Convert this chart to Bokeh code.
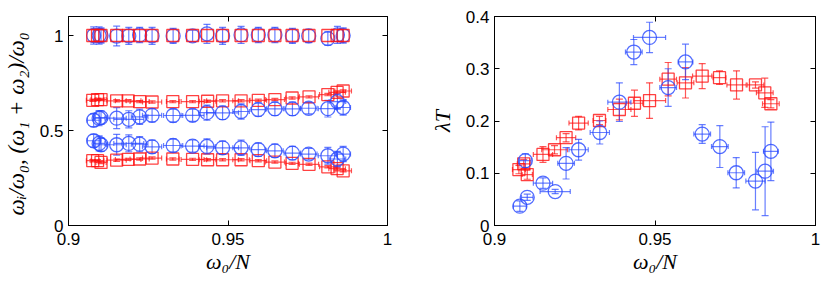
import numpy as np
from bokeh.plotting import figure
from bokeh.layouts import row
from bokeh.models import (ColumnDataSource, Whisker, TeeHead, FixedTicker, LinearAxis,
                          CustomJSTickFormatter, Range1d)
from bokeh.embed import file_html
from bokeh.resources import INLINE

# ---------------- data ----------------
x_blue = [0.9079, 0.9096, 0.9102, 0.9151, 0.9189, 0.9223, 0.9262, 0.9328, 0.9389, 0.9434,
          0.9483, 0.9541, 0.9595, 0.9647, 0.9702, 0.9753, 0.9813, 0.9843, 0.9861]
xerr_blue = [0.002, 0.0018, 0.0018, 0.003, 0.0047, 0.0026, 0.003, 0.003, 0.0036, 0.0026,
             0.005, 0.0026, 0.0023, 0.0026, 0.0026, 0.0026, 0.003, 0.0026, 0.0023]
x_red = [0.9076, 0.9091, 0.9102, 0.9151, 0.9187, 0.9223, 0.9262, 0.9327, 0.9389, 0.9436,
         0.9483, 0.9541, 0.9595, 0.9647, 0.9701, 0.9754, 0.9813, 0.9842, 0.9861]
xerr_red = [0.002, 0.002, 0.0016, 0.003, 0.004, 0.003, 0.003, 0.002, 0.0036, 0.0026,
            0.005, 0.0026, 0.0026, 0.003, 0.002, 0.003, 0.0026, 0.0026, 0.0026]

# left panel: omega_i/omega_0 and (omega_1+omega_2)/omega_0
blue_sum = [1.0, 1.0, 1.0, 0.997, 0.998, 1.003, 0.998, 0.998, 0.998, 1.009,
            0.998, 1.003, 1.003, 1.003, 0.998, 0.998, 0.984, 1.003, 1.0]
blue_sum_err = [0.045, 0.045, 0.04, 0.052, 0.045, 0.04, 0.045, 0.04, 0.03, 0.05,
                0.045, 0.045, 0.04, 0.04, 0.04, 0.035, 0.035, 0.045, 0.04]
blue_w1 = [0.554, 0.565, 0.568, 0.565, 0.559, 0.572, 0.580, 0.579, 0.580, 0.594,
           0.593, 0.600, 0.610, 0.614, 0.614, 0.617, 0.615, 0.652, 0.621]
blue_w2 = [0.446, 0.432, 0.425, 0.425, 0.432, 0.428, 0.414, 0.421, 0.418, 0.416,
           0.409, 0.409, 0.399, 0.393, 0.381, 0.376, 0.367, 0.350, 0.376]
blue_w_err = [0.033, 0.04, 0.035, 0.055, 0.045, 0.04, 0.035, 0.035, 0.032, 0.04,
              0.035, 0.04, 0.035, 0.035, 0.035, 0.03, 0.044, 0.04, 0.04]
red_sum = [1.0, 1.0, 1.0, 1.0, 1.0, 1.0, 1.0, 1.0, 1.0, 1.0,
           1.0, 1.0, 1.0, 1.0, 1.0, 1.0, 1.0, 1.0, 1.0]
red_w1 = [0.659, 0.663, 0.663, 0.656, 0.656, 0.652, 0.650, 0.652, 0.652, 0.654,
          0.656, 0.656, 0.659, 0.663, 0.671, 0.677, 0.689, 0.701, 0.708]
red_w2 = [0.341, 0.341, 0.332, 0.344, 0.348, 0.350, 0.355, 0.350, 0.348, 0.346,
          0.346, 0.346, 0.341, 0.334, 0.327, 0.322, 0.309, 0.299, 0.288]
red_w_err = [0.006, 0.006, 0.006, 0.006, 0.006, 0.006, 0.006, 0.006, 0.006, 0.006,
             0.006, 0.006, 0.006, 0.006, 0.006, 0.006, 0.006, 0.006, 0.006]

# right panel: lambda T
blue_lt = [0.037, 0.124, 0.054, 0.081, 0.065, 0.119, 0.145, 0.178, 0.236, 0.332,
           0.360, 0.264, 0.313, 0.175, 0.151, 0.101, 0.085, 0.104, 0.142]
blue_lt_err = [0.010, 0.013, 0.006, 0.010, 0.004, 0.030, 0.020, 0.022, 0.037, 0.024,
               0.029, 0.036, 0.034, 0.018, 0.040, 0.029, 0.055, 0.085, 0.056]
red_lt = [0.107, 0.118, 0.0975, 0.136, 0.145, 0.168, 0.196, 0.201, 0.222, 0.234,
          0.239, 0.280, 0.273, 0.286, 0.283, 0.269, 0.269, 0.254, 0.233]
red_lt_err = [0.008, 0.008, 0.009, 0.015, 0.008, 0.008, 0.013, 0.008, 0.02, 0.025,
              0.034, 0.032, 0.029, 0.024, 0.013, 0.027, 0.006, 0.028, 0.008]

x_ticks = [0.9, 0.95, 1.0]
left_y_ticks = [0, 0.5, 1]
right_y_ticks = [0, 0.1, 0.2, 0.3, 0.4]

BLUE = "#2848ff"
RED = "#ff1010"
TICK_FONT = "Liberation Sans"
LABEL_FONT = "Liberation Serif"

fmt = CustomJSTickFormatter(code="return String(Number(tick.toFixed(4)));")
empty_fmt = CustomJSTickFormatter(code="return '';")


def style(p, yticks, ylabel, ylabel_size):
    p.xgrid.visible = False
    p.ygrid.visible = False
    p.outline_line_color = "black"
    p.outline_line_width = 1
    p.xaxis.ticker = FixedTicker(ticks=x_ticks)
    p.yaxis.ticker = FixedTicker(ticks=yticks)
    for ax in (p.xaxis[0], p.yaxis[0]):
        ax.formatter = fmt
        ax.major_tick_in = 5
        ax.major_tick_out = 0
        ax.minor_tick_line_color = None
        ax.major_label_text_font = TICK_FONT
        ax.major_label_text_font_size = "17px"
        ax.major_label_text_color = "black"
        ax.axis_line_color = "black"
        ax.axis_label_text_font = LABEL_FONT
        ax.axis_label_text_font_style = "italic"
        ax.axis_label_text_font_size = "22px"
        ax.axis_label_text_color = "black"
    p.yaxis.axis_label_text_font_size = ylabel_size
    p.xaxis.major_label_standoff = 7
    p.xaxis.axis_label_standoff = 1
    p.yaxis.major_label_standoff = 5
    p.yaxis.axis_label_standoff = 8
    p.xaxis.axis_label = "ω₀/N"
    p.yaxis.axis_label = ylabel
    # mirror ticks on top and right
    for loc, ticks in (("above", x_ticks), ("right", yticks)):
        ax = LinearAxis(ticker=FixedTicker(ticks=ticks), formatter=empty_fmt,
                        major_tick_in=5, major_tick_out=0, minor_tick_line_color=None,
                        major_label_text_font_size="1px", major_label_standoff=0,
                        axis_line_color="black")
        p.add_layout(ax, loc)


def errs(p, x, y, xe, ye, color, marker, size):
    x = np.array(x); y = np.array(y); xe = np.array(xe); ye = np.array(ye)
    src = ColumnDataSource(dict(x=x, y=y, ylo=y - ye, yhi=y + ye, xlo=x - xe, xhi=x + xe))
    if np.any(ye > 0):
        vw = Whisker(base="x", lower="ylo", upper="yhi", source=src, dimension="height",
                     line_color=color, line_alpha=0.7, line_width=1.2,
                     upper_head=TeeHead(size=7, line_color=color, line_alpha=0.7, line_width=1.2),
                     lower_head=TeeHead(size=7, line_color=color, line_alpha=0.7, line_width=1.2))
        p.add_layout(vw)
    if np.any(xe > 0):
        hw = Whisker(base="y", lower="xlo", upper="xhi", source=src, dimension="width",
                     line_color=color, line_alpha=0.7, line_width=1.2,
                     upper_head=TeeHead(size=5, line_color=color, line_alpha=0.7, line_width=1.2),
                     lower_head=TeeHead(size=5, line_color=color, line_alpha=0.7, line_width=1.2))
        p.add_layout(hw)
    p.scatter("x", "y", source=src, marker=marker, size=size, fill_color=None,
              line_color=color, line_width=1.3, line_alpha=0.8)


# ---------------- left panel ----------------
p1 = figure(width=415, height=280, output_backend="svg", toolbar_location=None,
            x_range=Range1d(0.9, 1.0), y_range=Range1d(0, 1.1),
            min_border_left=65, min_border_right=28, min_border_top=16, min_border_bottom=55)
style(p1, left_y_ticks, "ωᵢ/ω₀,  (ω₁ + ω₂)/ω₀", "23px")
errs(p1, x_blue, blue_sum, [0] * len(x_blue), blue_sum_err, BLUE, "circle", 14)
errs(p1, x_red, red_sum, [0] * len(x_red), [0] * len(x_red), RED, "square", 12)
errs(p1, x_red, red_w1, xerr_red, red_w_err, RED, "square", 12)
errs(p1, x_red, red_w2, xerr_red, red_w_err, RED, "square", 12)
errs(p1, x_blue, blue_w1, xerr_blue, blue_w_err, BLUE, "circle", 14)
errs(p1, x_blue, blue_w2, xerr_blue, blue_w_err, BLUE, "circle", 14)

# ---------------- right panel ----------------
p2 = figure(width=413, height=280, output_backend="svg", toolbar_location=None,
            x_range=Range1d(0.9, 1.0), y_range=Range1d(0, 0.4),
            min_border_left=79, min_border_right=13, min_border_top=16, min_border_bottom=55)
style(p2, right_y_ticks, "λT", "22px")
errs(p2, x_red, red_lt, xerr_red, red_lt_err, RED, "square", 12)
errs(p2, x_blue, blue_lt, xerr_blue, blue_lt_err, BLUE, "circle", 14)

layout = row(p1, p2)
open("out.html", "w").write(file_html(layout, INLINE))
